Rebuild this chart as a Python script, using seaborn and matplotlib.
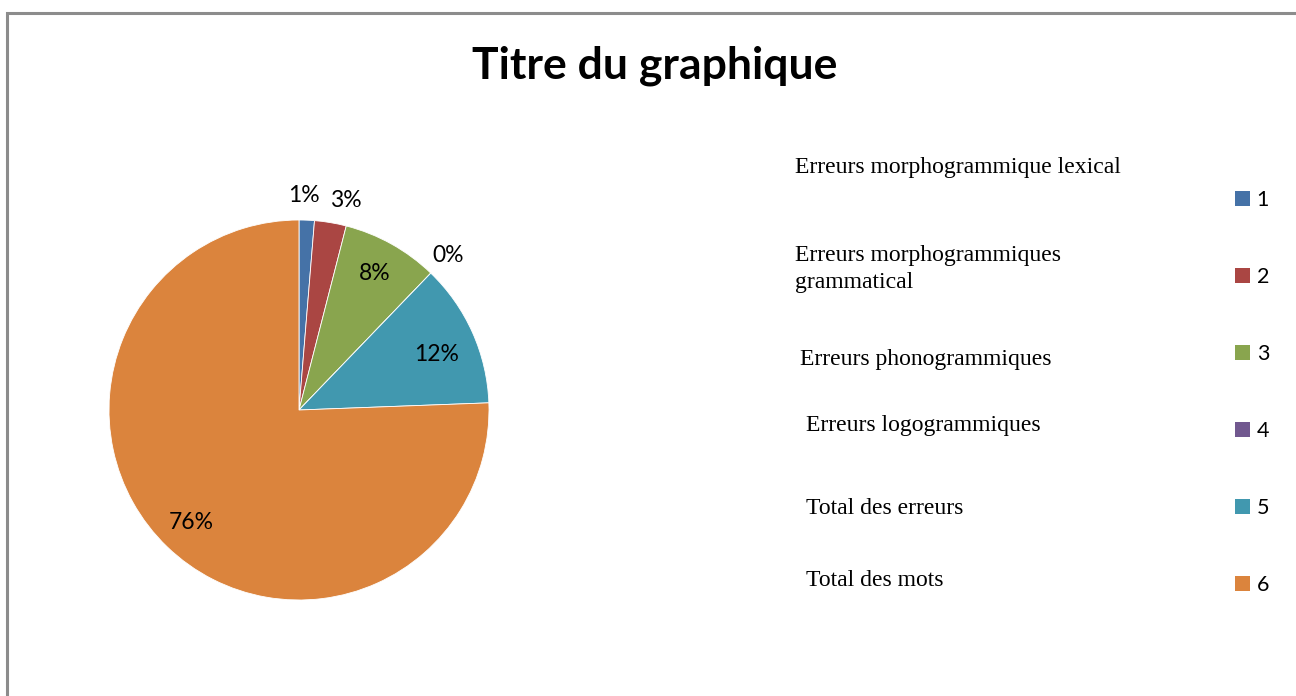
import numpy as np
import seaborn as sns
import matplotlib.pyplot as plt
from matplotlib.patches import Rectangle, Patch

sns.set_theme(style="white")
plt.rcParams['font.family'] = ['Lato', 'DejaVu Sans']
plt.rcParams['text.color'] = 'black'

# donnees (parts, en %)
categories = ["1", "2", "3", "4", "5", "6"]
parts = [1.3, 2.7, 8.2, 0.0, 12.2, 75.6]
noms = ["Erreurs morphogrammique lexical",
        "Erreurs morphogrammiques\ngrammatical",
        "Erreurs phonogrammiques",
        "Erreurs logogrammiques",
        "Total des erreurs",
        "Total des mots"]
couleurs = ["#4572A7", "#AA4643", "#89A54E", "#71588F", "#4198AF", "#DB843D"]
dist_etiquettes = [1.13, 1.13, 0.82, 1.13, 0.78, 0.82]
decal_angle = [1, -3, 0, 0, -2, 0]

W, H = 1296, 696
fig = plt.figure(figsize=(W / 100, H / 100), dpi=100)

# cadre gris
fig.patches.append(Rectangle((6.5 / W, -0.1), 1.2, 1 - 13 / H + 0.1, transform=fig.transFigure,
                             fill=False, edgecolor="#8c8c8c", linewidth=2.2))

ax = fig.add_axes([109 / W, (H - 600) / H, 380 / W, 380 / H])
wedges, texts, autotexts = ax.pie(parts, colors=couleurs, startangle=90, counterclock=False,
                                  autopct="%1.0f%%", pctdistance=0.8,
                                  wedgeprops=dict(linewidth=0.6, edgecolor="white"),
                                  textprops=dict(fontsize=16.5, color="black"))
for w, t, d, da in zip(wedges, autotexts, dist_etiquettes, decal_angle):
    a = np.deg2rad((w.theta1 + w.theta2) / 2 + da)
    t.set_position((d * np.cos(a), d * np.sin(a)))
ax.set_xlim(-1, 1)
ax.set_ylim(-1, 1)
ax.axis("off")

fig.text(655 / W, 1 - 66 / H, "Titre du graphique", ha="center", va="center",
         fontsize=32, fontweight="bold")

poignees = [Patch(facecolor=c, edgecolor="none") for c in couleurs]
fig.legend(poignees, categories, loc="upper left", bbox_to_anchor=(1224 / W, 1 - 179 / H),
           frameon=False, fontsize=15.5, handlelength=0.72, handleheight=0.72,
           handletextpad=0.3, labelspacing=2.65, borderpad=0)

pos_noms = [(795, 167), (795, 269), (800, 360), (806, 425), (806, 509), (806, 581)]
for (x, y), n in zip(pos_noms, noms):
    fig.text(x / W, 1 - y / H, n, ha="left", va="center", fontsize=17,
             family=["Liberation Serif"], linespacing=1.32)

plt.savefig("out.png", dpi=100)
